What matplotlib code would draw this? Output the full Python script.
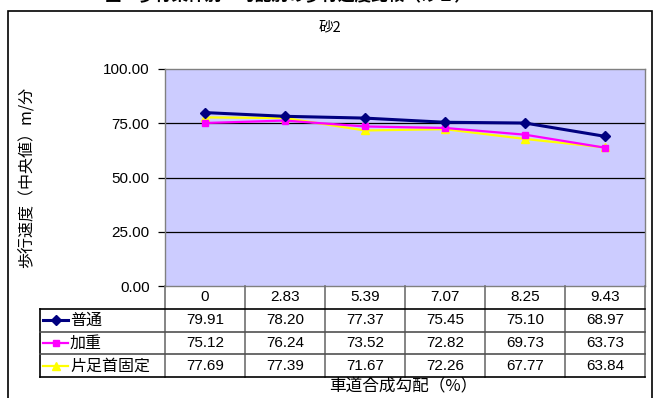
import numpy as np
import matplotlib
matplotlib.use("Agg")
import matplotlib.pyplot as plt
from matplotlib.patches import Rectangle

plt.rcParams['font.family'] = ['Liberation Sans', 'Noto Sans CJK JP', 'DejaVu Sans']

# gradient categories and walking speeds (median, m/min)
slopes = ['0', '2.83', '5.39', '7.07', '8.25', '9.43']
futsu = [79.91, 78.20, 77.37, 75.45, 75.10, 68.97]
kajuu = [75.12, 76.24, 73.52, 72.82, 69.73, 63.73]
kata = [77.69, 77.39, 71.67, 72.26, 67.77, 63.84]
names = ['普通', '加重', '片足首固定']
yticks = [0, 25, 50, 75, 100]

series = [
    (names[0], futsu, '#000080', 'D', 2.2, 5.5),
    (names[1], kajuu, '#FF00FF', 's', 1.6, 5),
    (names[2], kata, '#FFFF00', '^', 1.6, 6),
]

W, H = 658, 398
fig = plt.figure(figsize=(W / 100, H / 100), dpi=100)


def px(x0, y0, x1, y1):
    # pixel box (top-left origin) -> figure fraction rect
    return [x0 / W, 1 - y1 / H, (x1 - x0) / W, (y1 - y0) / H]


# outer chart frame
fig.patches.append(Rectangle((8 / W, -0.05), (652 - 8) / W, 1.05 - 11 / H,
                             transform=fig.transFigure, fill=False,
                             edgecolor='black', lw=1.2))

# figure caption, mostly above the top edge
fig.text(288 / W, 1 - 1 / H, '図　歩行条件別・勾配別の歩行速度比較（砂２）',
         ha='center', va='baseline', fontsize=12, fontweight='bold',
         family=['Noto Sans CJK JP'])
fig.text(330 / W, 1 - 27 / H, '砂2', ha='center', va='center', fontsize=10.5,
         family=['Noto Sans CJK JP', 'Liberation Sans'])

# main plot area
ax = fig.add_axes(px(165, 69, 645, 286))
ax.set_facecolor('#CCCCFF')
x = np.arange(len(slopes))
for name, vals, col, mk, lw, ms in reversed(series):
    ax.plot(x, vals, color=col, lw=lw, marker=mk, ms=ms, mfc=col, mec=col,
            zorder=3)
ax.set_xlim(-0.5, len(slopes) - 0.5)
ax.set_ylim(0, 100)
ax.set_yticks(yticks)
ax.set_yticklabels([f'{v:.2f}' for v in yticks], fontsize=11)
ax.set_xticks([])
for v in yticks[1:-1]:
    ax.axhline(v, color='black', lw=0.9, zorder=1)
for s in ax.spines.values():
    s.set_color('#808080')
    s.set_linewidth(1)
ax.tick_params(axis='y', length=5, width=0.9, color='black', pad=6)
ax.set_ylabel('歩行速度（中央値）m/分', fontsize=11.5,
              family=['Noto Sans CJK JP'])
ax.yaxis.set_label_coords(-129 / 480, 0.5)

# data table under the plot
hdr = 125 / 80
tx0 = -0.5 - hdr
tab = fig.add_axes(px(40, 286, 645, 377))
tab.set_xlim(tx0, len(slopes) - 0.5)
tab.set_ylim(4, 0)
tab.axis('off')
for xv in np.arange(-0.5, len(slopes), 1.0):
    tab.plot([xv, xv], [0, 4], color='#707070', lw=1.2, clip_on=False)
tab.plot([tx0, tx0], [1, 4], color='black', lw=1.2, clip_on=False)
for yv in [1, 2, 3, 4]:
    tab.plot([tx0, len(slopes) - 0.5], [yv, yv], color='black' if yv in (1, 4) else '#505050',
             lw=1.2, clip_on=False)
for i, s in enumerate(slopes):
    tab.text(i, 0.5, s, ha='center', va='center', fontsize=11)
for r, (name, vals, col, mk, lw, ms) in enumerate(series, start=1):
    k0 = tx0 + 3 / 80
    k1 = tx0 + 28 / 80
    tab.plot([k0, k1], [r + 0.5, r + 0.5], color=col, lw=lw, clip_on=False)
    tab.plot([(k0 + k1) / 2], [r + 0.5], marker=mk, ms=ms, color=col,
             clip_on=False)
    tab.text(tx0 + 30 / 80, r + 0.52, name, ha='left', va='center',
             fontsize=11.5, family=['Noto Sans CJK JP'])
    for i, v in enumerate(vals):
        tab.text(i, r + 0.5, f'{v:.2f}', ha='center', va='center', fontsize=11)

fig.text(403 / W, 1 - 387 / H, '車道合成勾配（%）', ha='center', va='center',
         fontsize=12, family=['Noto Sans CJK JP'])

fig.savefig('out.png', dpi=100)
